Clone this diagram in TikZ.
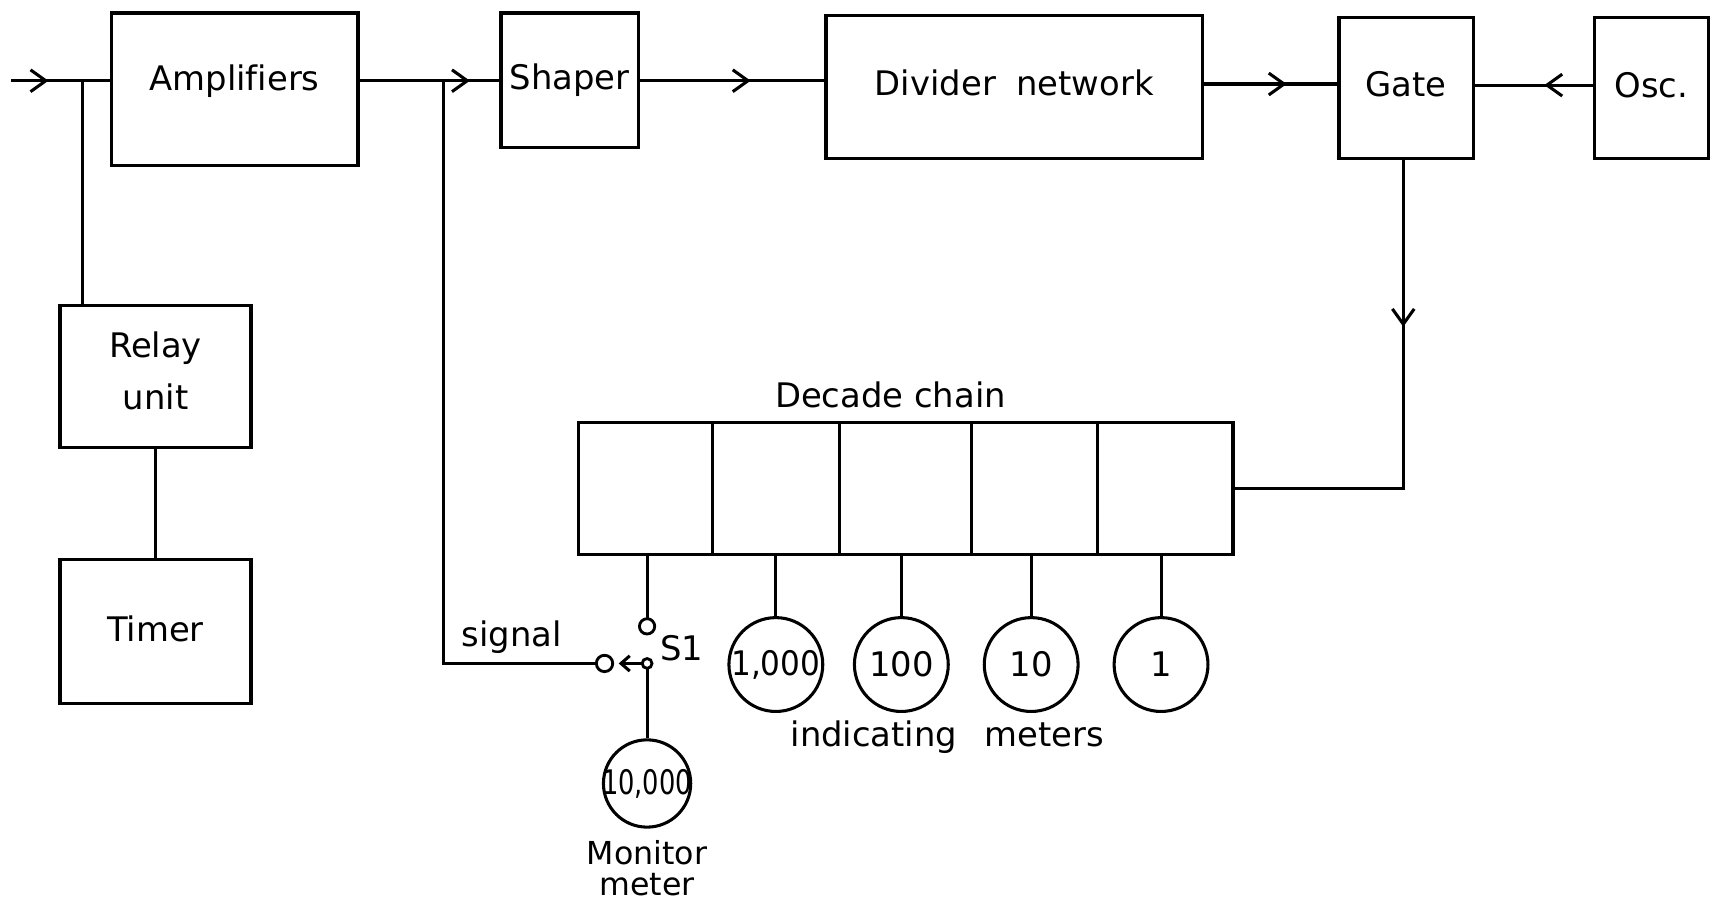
\documentclass[tikz,border=0pt]{standalone}
\usepackage{fontspec}
\usepackage{graphicx}
\setmainfont[Ligatures=NoCommon]{DejaVu Sans}
\usetikzlibrary{arrows.meta,decorations.markings}
\begin{document}
\begin{tikzpicture}[x=1pt,y=-1pt,
  every node/.style={font=\fontsize{31}{48}\selectfont},
  box/.style={draw, line width=3pt, inner sep=0pt},
  wire/.style={line width=2.8pt},
  midarrow/.style={postaction={decorate}, decoration={markings, mark=at position #1 with {\arrow{Straight Barb[length=14pt,width=20pt]}}}},
  meter/.style={draw, circle, line width=2.8pt, inner sep=0pt},
  contact/.style={draw, circle, line width=2.6pt, inner sep=0pt, fill=white},
  monlabel/.style={inner sep=0pt, anchor=base, font=\fontsize{29}{34}\selectfont}
]
\fill[white] (0,0) rectangle (1568,826);
\useasboundingbox (0,0) rectangle (1568,826);

% boxes
\node[box, minimum width=226pt, minimum height=140pt] (amp) at (215,82) {};
\node (ampt) at (215,74) {Amplifiers};
\node[box, minimum width=175pt, minimum height=130pt] (relay) at (142.5,345) {};
\node[align=center] (relayt) at (142.5,340) {Relay\\unit};
\node[box, minimum width=175pt, minimum height=132pt] (timer) at (142.5,579) {};
\node (timert) at (142.5,576) {Timer};
\node[box, minimum width=126pt, minimum height=123pt] (shaper) at (522,73.5) {Shaper};
\node[box, minimum width=345pt, minimum height=131pt] (divider) at (929.5,79.5) {};
\node (dividert) at (929.5,76) {Divider\hspace{0.6em}network};
\node[box, minimum width=123pt, minimum height=129pt] (gate) at (1288.5,80.5) {};
\node (gatet) at (1288.5,77) {Gate};
\node[box, minimum width=105pt, minimum height=129pt] (osc) at (1513.5,80.5) {};
\node (osct) at (1513.5,78) {Osc.};

% decade chain
\node (dclabel) at (816,362) {Decade chain};
\node[box, minimum width=123pt, minimum height=121pt] (c1) at (591.5,447.5) {};
\node[box, minimum width=116pt, minimum height=121pt] (c2) at (711,447.5) {};
\node[box, minimum width=121pt, minimum height=121pt] (c3) at (829.5,447.5) {};
\node[box, minimum width=116pt, minimum height=121pt] (c4) at (948,447.5) {};
\node[box, minimum width=124pt, minimum height=121pt] (c5) at (1068,447.5) {};

% meters
\node[meter, minimum size=86pt] (m1) at (711,609) {};
\node (m1t) at (m1) {\scalebox{0.92}[1]{1,000}};
\node[meter, minimum size=86pt] (m2) at (826,609) {};
\node (m2t) at (m2) {100};
\node[meter, minimum size=86pt] (m3) at (945,609) {};
\node (m3t) at (m3) {10};
\node[meter, minimum size=86pt] (m4) at (1064,609) {};
\node (m4t) at (m4) {1};
\node (indt) at (868,676) {indicating\hspace{0.8em}meters};

\node[meter, minimum size=80pt] (mon) at (593,718) {};
\node (mont) at (mon) {\scalebox{0.76}[1]{10,000}};
\node[monlabel] (monl1) at (593,792) {Monitor};
\node[monlabel] (monl2) at (593,821) {meter};

% switch S1
\coordinate (bladetip) at (567,608);
\draw[wire] (c1.south -| 593,0) -- (593,567);
\draw[wire] (593,608) -- (mon.north);
\draw[wire, -{Straight Barb[length=8pt,width=14pt]}] (593,608) -- (bladetip);
\node[contact, minimum size=14pt] (s1top) at (593,574) {};
\node[contact, minimum size=9pt] (s1piv) at (593,608) {};
\node[contact, minimum size=15pt] (s1left) at (554,608) {};
\node (s1l) at (625,594) {S1};
\node (sigl) at (469,584) {signal};

% wires
\coordinate (in) at (10,74);
\coordinate (j1) at (76,74);
\coordinate (j2) at (406,74);
\coordinate (g) at (0,77);
\coordinate (o) at (0,78);
\coordinate (gd) at (1286,0);

\draw[wire, midarrow=0.38] (in) -- (amp.west |- in);
\draw[wire] (j1) -- (j1 |- relay.north);
\draw[wire] (relay.south) -- (timer.north);
\draw[wire, midarrow=0.79] (amp.east |- in) -- (shaper.west |- in);
\draw[wire] (j2) -- (j2 |- s1left) -- (s1left.west);
\draw[wire, midarrow=0.6] (shaper.east |- in) -- (divider.west |- in);
\draw[wire, midarrow=0.62] (divider.east |- g) -- (gate.west |- g);
\draw[wire, midarrow=0.41] (osc.west |- o) -- (gate.east |- o);
\draw[wire, midarrow=153pt] (gate.south -| gd) -- (gd |- c5.east) -- (c5.east);

\draw[wire] (c2.south -| m1.north) -- (m1.north);
\draw[wire] (c3.south -| m2.north) -- (m2.north);
\draw[wire] (c4.south -| m3.north) -- (m3.north);
\draw[wire] (c5.south -| m4.north) -- (m4.north);
\end{tikzpicture}
\end{document}
